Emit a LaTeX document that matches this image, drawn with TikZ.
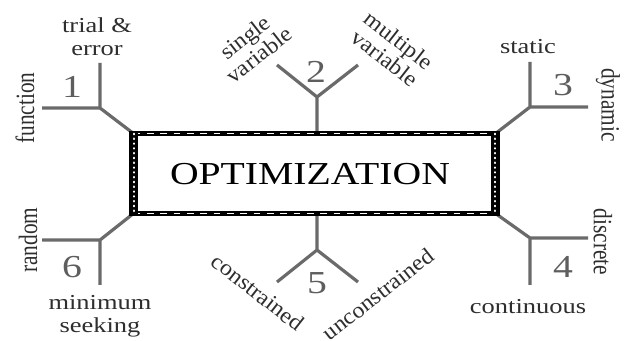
\documentclass[tikz,border=0pt]{standalone}
\usepackage{fontspec}
\setmainfont{Liberation Serif}
\newfontfamily\tnr{Liberation Serif}
\definecolor{brgray}{HTML}{6A6A6A}
\definecolor{lblgray}{HTML}{2E2E2E}
\definecolor{numgray}{HTML}{5E5E5E}
\newcommand\hs[1]{\scalebox{1.24}[1]{#1}}
\newcommand\vs[1]{\scalebox{1}[1.24]{#1}}
\newcommand\ds[1]{\scalebox{1.12}[1.05]{#1}}
\begin{document}
\begin{tikzpicture}[x=0.75pt,y=-0.75pt,
  branch/.style={draw=brgray, line width=2.4pt, line join=round},
  lbl/.style={font=\tnr\fontsize{16}{17}\selectfont, inner sep=0pt, text=lblgray, align=center},
  num/.style={font=\tnr\fontsize{24}{24}\selectfont, text=numgray, inner sep=0pt},
  hborder/.style={line width=3.6pt, black},
  hborderx/.style={line width=0.6pt, white, dash pattern=on 5pt off 5pt},
  vborder/.style={line width=7pt, black},
  vborderx/.style={line width=1.6pt, white, line cap=round, dash pattern=on 0.4pt off 3.2pt}]
\useasboundingbox (0,0) rectangle (628,341);
\fill[white] (0,0) rectangle (628,341);
% central box
\node[minimum width=270.75pt, minimum height=59.25pt, inner sep=0pt] (opt) at (314.5,173.5) {};
\node[font=\tnr\fontsize{24}{24}\selectfont, inner sep=0pt] (title) at (310,174) {\hs{OPTIMIZATION}};
% branch junctions and ends
\coordinate (j1) at (100,108); \coordinate (e1u) at (100,63);  \coordinate (e1l) at (42,108);
\coordinate (j2) at (317,97);  \coordinate (e2l) at (277,65);  \coordinate (e2r) at (358,65);
\coordinate (j3) at (530,107); \coordinate (e3u) at (530,62);  \coordinate (e3r) at (588,107);
\coordinate (j4) at (530,238); \coordinate (e4d) at (530,285); \coordinate (e4r) at (588,238);
\coordinate (j5) at (317,250); \coordinate (e5l) at (277,282); \coordinate (e5r) at (358,282);
\coordinate (j6) at (100,240); \coordinate (e6d) at (100,285); \coordinate (e6l) at (42,240);
\draw[branch] (opt.north west) -- (j1) -- (e1u) (j1) -- (e1l);
\draw[branch] (j2 |- opt.north) -- (j2) -- (e2l) (j2) -- (e2r);
\draw[branch] (opt.north east) -- (j3) -- (e3u) (j3) -- (e3r);
\draw[branch] (opt.south east) -- (j4) -- (e4d) (j4) -- (e4r);
\draw[branch] (j5 |- opt.south) -- (j5) -- (e5l) (j5) -- (e5r);
\draw[branch] (opt.south west) -- (j6) -- (e6d) (j6) -- (e6l);
% box borders
\draw[hborder] (opt.north west) -- (opt.north east);
\draw[hborder] (opt.south west) -- (opt.south east);
\draw[hborderx] (opt.north west) -- (opt.north east);
\draw[hborderx] (opt.south west) -- (opt.south east);
\draw[vborder] ([yshift=2pt]opt.north west) -- ([yshift=-2pt]opt.south west);
\draw[vborder] ([yshift=2pt]opt.north east) -- ([yshift=-2pt]opt.south east);
\draw[vborderx] (opt.north west) -- (opt.south west);
\draw[vborderx] (opt.north east) -- (opt.south east);
% numbers
\node[num] (n1) at (72,87) {\hs{1}};
\node[num] (n2) at (316,72) {\hs{2}};
\node[num] (n3) at (563,85) {\hs{3}};
\node[num] (n4) at (563,267) {\hs{4}};
\node[num] (n5) at (317,283) {\hs{5}};
\node[num] (n6) at (72,267) {\hs{6}};
% labels
\node[lbl] (l1a) at (97,37) {\hs{trial \&}\\\hs{error}};
\node[lbl, rotate=90] (l1b) at (25,108) {\vs{function}};
\node[lbl, rotate=38] (l2a) at (252,46) {\ds{single}\\\ds{variable}};
\node[lbl, rotate=-38] (l2b) at (392,49) {\ds{multiple}\\\ds{variable}};
\node[lbl] (l3a) at (528,47) {\hs{static}};
\node[lbl, rotate=-90] (l3b) at (608,105) {\vs{dynamic}};
\node[lbl, rotate=-90] (l4a) at (603,242) {\vs{discrete}};
\node[lbl] (l4b) at (528,307) {\hs{continuous}};
\node[lbl, rotate=-38] (l5a) at (258,292) {\ds{constrained}};
\node[lbl, rotate=38] (l5b) at (378,294) {\ds{unconstrained}};
\node[lbl, rotate=90] (l6a) at (28,240) {\vs{random}};
\node[lbl] (l6b) at (100,316) {\hs{minimum}\\\hs{seeking}};
\end{tikzpicture}
\end{document}
